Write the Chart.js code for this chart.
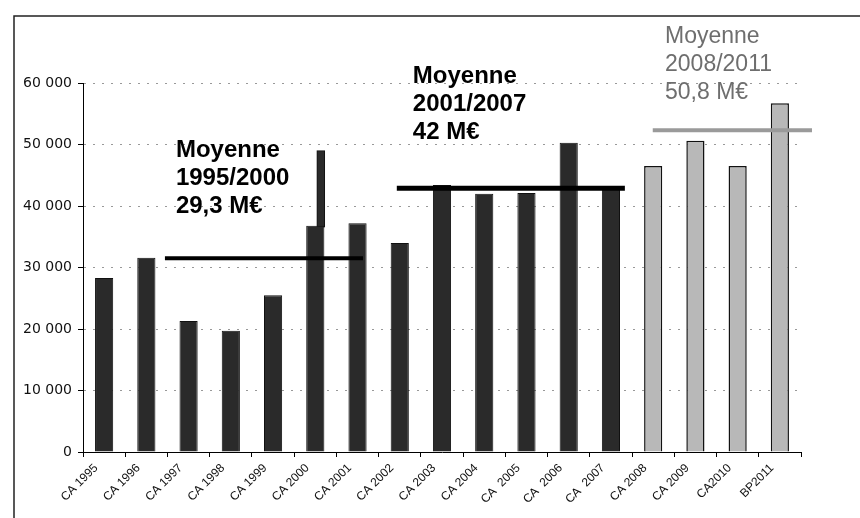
<!DOCTYPE html>
<html>
<head>
<meta charset="utf-8">
<script src="https://cdn.jsdelivr.net/npm/chart.js@4"></script>
<style>
html, body { margin: 0; padding: 0; background: #fff; }
canvas { display: block; }
</style>
</head>
<body>
<canvas id="myChart" width="860" height="518"></canvas>
<script>
// years as printed under the bars (double spaces kept as in the original)
var labels = ['CA 1995', 'CA 1996', 'CA 1997', 'CA 1998', 'CA 1999', 'CA 2000', 'CA 2001', 'CA 2002',
    'CA 2003', 'CA 2004', 'CA  2005', 'CA  2006', 'CA  2007', 'CA 2008', 'CA 2009', 'CA2010', 'BP2011'];
var values = [28300, 31600, 21300, 19700, 25500, 36800, 37200, 34000,
    43400, 42000, 42100, 50300, 43000, 46500, 50600, 46500, 56700];
// the narrow extra piece sitting on the right half of the CA 2000 bar
var spikeX = [5.13];
var spikeRange = [[36500, 49000]];
var yTicks = [0, 10000, 20000, 30000, 40000, 50000, 60000];

// average lines: start/end (category index) and drawn level
var avgStart = [1.44, 6.93, 12.99];
var avgEnd = [6.13, 12.33, 16.76];
var avgLevel = [31500, 42900, 52300];
var avgTexts = [
    ['Moyenne', '1995/2000', '29,3 M\u20ac'],
    ['Moyenne', '2001/2007', '42 M\u20ac'],
    ['Moyenne', '2008/2011', '50,8 M\u20ac']
];
var firstLight = 13; // CA 2008 onwards drawn light grey

function fmt(v) {
    return String(v).replace(/\B(?=(\d{3})+(?!\d))/g, ' ');
}

Chart.defaults.font.family = "'Liberation Sans', Arial, sans-serif";
Chart.defaults.color = '#111';

var avgColors = ['#000', '#000', '#9a9a9a'];
var avgWidths = [4, 5, 4];
var lineSets = avgLevel.map(function (lv, i) {
    return {
        type: 'line',
        xAxisID: 'x2',
        data: [{x: avgStart[i], y: lv}, {x: avgEnd[i], y: lv}],
        borderColor: avgColors[i],
        borderWidth: avgWidths[i],
        pointRadius: 0,
        clip: false,
        order: -1
    };
});

var framePlugin = {
    id: 'frame',
    beforeDraw: function (chart) {
        var c = chart.ctx;
        c.save();
        c.strokeStyle = '#222';
        c.lineWidth = 1.5;
        c.beginPath();
        c.moveTo(14, 518);
        c.lineTo(14, 16);
        c.lineTo(860, 16);
        c.stroke();
        c.restore();
    }
};

var textPlugin = {
    id: 'avgText',
    afterDraw: function (chart) {
        var c = chart.ctx, sx = chart.scales.x2, sy = chart.scales.y;
        var spots = [[1.70, 47970], [7.31, 60000], [13.28, 66500]];
        var styles = [
            {font: 'bold 24px "Liberation Sans", Arial', color: '#000', gap: 28},
            {font: 'bold 24px "Liberation Sans", Arial', color: '#000', gap: 28},
            {font: '23px "Liberation Sans", Arial', color: '#6e6e6e', gap: 28}
        ];
        c.save();
        c.textAlign = 'left';
        c.textBaseline = 'alphabetic';
        avgTexts.forEach(function (lines, i) {
            var x = sx.getPixelForValue(spots[i][0]);
            var y = sy.getPixelForValue(spots[i][1]);
            c.font = styles[i].font;
            c.fillStyle = styles[i].color;
            lines.forEach(function (t, j) {
                c.fillText(t, x, y + j * styles[i].gap);
            });
        });
        c.restore();
    }
};

var ctx = document.getElementById('myChart').getContext('2d');
var myChart = new Chart(ctx, {
    type: 'bar',
    data: {
        labels: labels,
        datasets: [{
            data: values,
            grouped: false,
            categoryPercentage: 1,
            barPercentage: 0.43,
            backgroundColor: function (c) { return c.dataIndex >= firstLight ? '#b8b8b8' : '#2a2a2a'; },
            borderColor: '#111',
            borderWidth: function (c) { return c.dataIndex >= firstLight ? 1.5 : 1; }
        }, {
            xAxisID: 'x2',
            data: spikeX.map(function (x, i) { return {x: x, y: spikeRange[i]}; }),
            grouped: false,
            barThickness: 8,
            backgroundColor: '#2a2a2a',
            borderColor: '#111',
            borderWidth: 1,
            borderSkipped: 'bottom'
        }].concat(lineSets)
    },
    options: {
        responsive: false,
        animation: false,
        devicePixelRatio: 1,
        layout: {
            padding: {left: 0, top: 83, right: 59, bottom: 0}
        },
        scales: {
            x: {
                grid: {
                    drawOnChartArea: false,
                    tickLength: 5,
                    tickColor: '#000'
                },
                border: {color: '#000', width: 1},
                ticks: {
                    minRotation: 45,
                    maxRotation: 45,
                    autoSkip: false,
                    padding: 4,
                    labelOffset: -8,
                    font: {size: 12},
                    color: '#111'
                },
                afterFit: function (s) { s.height = 66; }
            },
            x2: {
                type: 'linear',
                display: false,
                offset: false,
                grid: {offset: false},
                min: -0.5,
                max: 16.5
            },
            y: {
                min: 0,
                max: 60000,
                afterBuildTicks: function (s) {
                    s.ticks = yTicks.map(function (v) { return {value: v}; });
                },
                grid: {
                    color: '#999',
                    tickColor: '#000',
                    tickLength: 5
                },
                border: {color: '#000', width: 1, dash: [2, 7]},
                ticks: {
                    padding: 6,
                    font: {family: "'DejaVu Sans', sans-serif", size: 14},
                    color: '#111',
                    callback: function (v) { return fmt(v); }
                },
                afterFit: function (s) { s.width = 83; }
            }
        },
        plugins: {
            legend: {display: false},
            tooltip: {enabled: false},
            title: {display: false}
        }
    },
    plugins: [framePlugin, textPlugin]
});
</script>
</body>
</html>
